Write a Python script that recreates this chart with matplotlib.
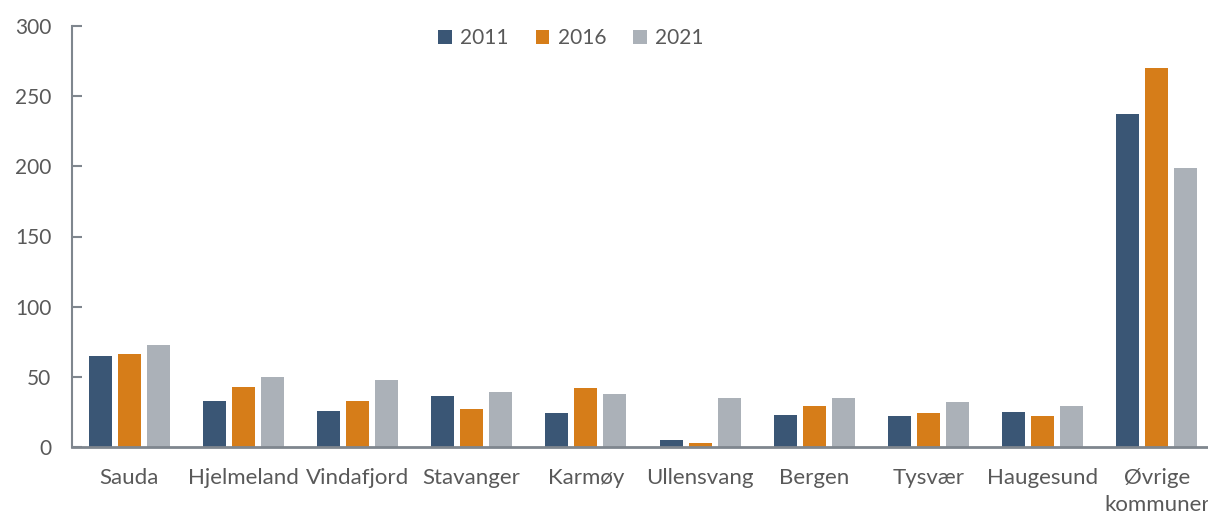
import numpy as np
import matplotlib
matplotlib.use("Agg")
import matplotlib.pyplot as plt

# --- data ---
kommuner = ["Sauda", "Hjelmeland", "Vindafjord", "Stavanger", "Karmøy",
            "Ullensvang", "Bergen", "Tysvær", "Haugesund", "Øvrige\nkommuner"]
v2011 = [65, 33, 26, 36, 24, 5, 23, 22, 25, 237]
v2016 = [66, 43, 33, 27, 42, 3, 29, 24, 22, 270]
v2021 = [73, 50, 48, 39, 38, 35, 35, 32, 29, 199]
years = ["2011", "2016", "2021"]

farger = ["#3A5675", "#D67D19", "#ABB1B8"]
tekst = "#595959"
akse = "#7F868E"

plt.rcParams["font.family"] = ["Lato", "DejaVu Sans"]

fig = plt.figure(figsize=(12.08, 5.16), dpi=100)
ax = fig.add_axes([72 / 1208, 1 - 447 / 516, (1214 - 72) / 1208, (447 - 26) / 516])

x = np.arange(len(kommuner))
w = 0.2
step = 0.254
for i, (vals, lab) in enumerate(zip([v2011, v2016, v2021], years)):
    ax.bar(x + (i - 1) * step, vals, width=w, color=farger[i], label=lab, zorder=2)

ax.set_xlim(-0.5, len(kommuner) - 0.5)
ax.set_ylim(0, 300)
ax.set_yticks(range(0, 301, 50))
ax.set_xticks(x)
ax.set_xticklabels(kommuner, fontsize=16, color=tekst, linespacing=1.45, va="top")

for s in ["top", "right"]:
    ax.spines[s].set_visible(False)
ax.spines["left"].set_color(akse)
ax.spines["left"].set_linewidth(1.5)
ax.spines["bottom"].set_color(akse)
ax.spines["bottom"].set_linewidth(2)

ax.tick_params(axis="y", direction="in", length=7, width=1.5, color=akse,
               labelsize=15, labelcolor=tekst, pad=15)
ax.tick_params(axis="x", length=0, pad=15)

ax.legend(loc="upper center", bbox_to_anchor=(0.437, 1.04), ncol=3, frameon=False,
          fontsize=15, labelcolor=tekst, handlelength=0.65, handleheight=0.65,
          handletextpad=0.4, columnspacing=1.3)

fig.savefig("out.png", dpi=100)
